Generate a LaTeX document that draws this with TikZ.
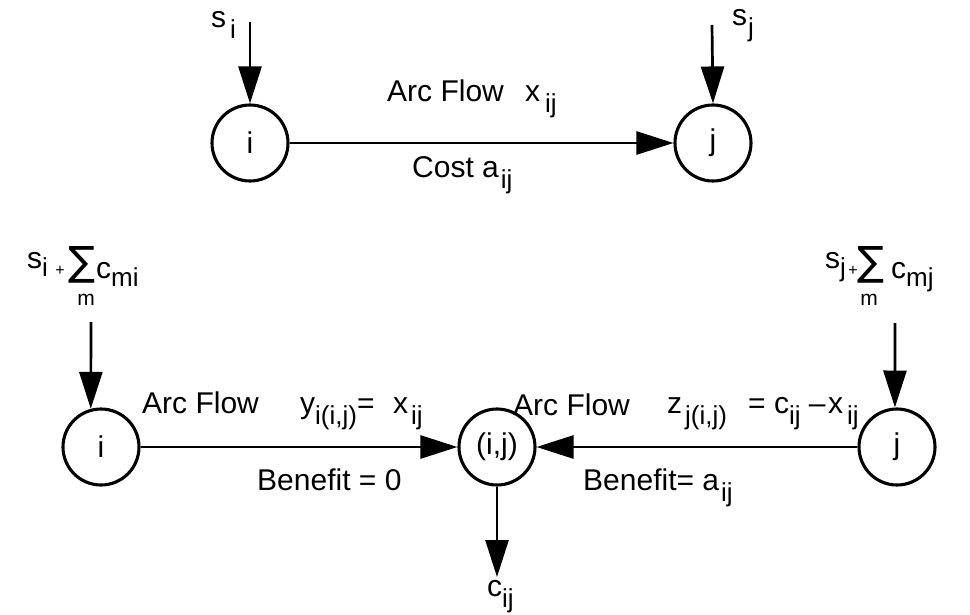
\documentclass[tikz,border=0pt]{standalone}
\usepackage{fontspec}
\setmainfont{Liberation Sans}
\newfontfamily\sigfont{DejaVu Sans}
\usetikzlibrary{arrows.meta}
\newcommand{\sbs}[1]{\raisebox{-11pt}{\fontsize{26}{30}\selectfont #1}}
\newcommand{\sbm}[1]{\raisebox{-8pt}{\fontsize{26}{30}\selectfont #1}}
\newcommand{\bigsig}{\resizebox{27pt}{29pt}{\sigfont ∑}}
\tikzset{
  nd/.style={circle,draw,line width=3.1pt,minimum size=76pt,inner sep=0pt,font=\fontsize{30}{36}\selectfont},
  arr/.style={line width=2.7pt,-{Triangle[length=37pt,width=23pt]}},
  lbl/.style={inner sep=0pt,anchor=base west,font=\fontsize{30}{36}\selectfont},
  sml/.style={inner sep=0pt,font=\fontsize{16}{18}\selectfont},
  sig/.style={inner sep=0pt,outer sep=0pt,anchor=south west,font=\fontsize{30}{36}\selectfont},
  mlb/.style={inner sep=0pt,font=\fontsize{21}{24}\selectfont}
}
\begin{document}
\begin{tikzpicture}[x=1pt,y=-1pt]
\path[use as bounding box,fill=white] (0,0) rectangle (970,615);
% top row
\node[nd] (ti) at (250,143) {i};
\node[nd] (tj) at (713,143) {j};
\node[lbl] (tsi) at (211,28) {s\hspace{4pt}\sbs{i}};
\node[lbl] (tsj) at (732,26) {s\hspace{1pt}\sbs{j}};
\coordinate (tsi0) at (250,22);
\coordinate (tsj0) at (712,25);
\draw[arr] (tsi0) -- (ti);
\draw[arr] (tsj0) -- (tj.north);
\draw[arr] (ti) -- (tj);
\node[lbl] (tflow) at (387,102) {Arc Flow};
\node[lbl] (tx) at (525,102) {x\hspace{5pt}\sbs{ij}};
\node[lbl] (tcost) at (412,178) {Cost a\hspace{2pt}\sbs{ij}};
% bottom row
\node[nd] (bi) at (101,447) {i};
\node[nd] (bij) at (497,447) {(i,j)};
\node[nd] (bj) at (897,447) {j};
% left supply
\node[lbl] (bsi) at (27,268) {s\sbm{i}};
\node[sml] (bpl) at (60,271) {+};
\node[sig] (bsig) at (68,283) {\bigsig};
\node[mlb] (bm) at (86,300) {m};
\node[lbl] (bc) at (96,278) {c\sbm{mi}};
% right supply
\node[lbl] (bsj) at (825,268) {s\sbm{j}};
\node[sml] (bpr) at (853,271) {+};
\node[sig] (bsig2) at (857,283) {\bigsig};
\node[mlb] (bm2) at (869,300) {m};
\node[lbl] (bc2) at (891,278) {c\sbm{mj}};
\coordinate (bi0) at (91,322);
\coordinate (bj0) at (895,323);
\coordinate (bc0) at (497,577);
\draw[arr] (bi0) -- (bi.105);
\draw[arr] (bj0) -- (bj.93);
\draw[arr] (bi) -- (bij);
\draw[arr] (bj) -- (bij);
\draw[arr] (bij) -- (bc0);
% labels
\node[lbl] (lflow) at (142,413) {Arc Flow};
\node[lbl] (ly) at (300,413) {y\sbs{i(i,j)}=};
\node[lbl] (lx) at (393,413) {x\hspace{3pt}\sbs{ij}};
\node[lbl] (rflow) at (513,415) {Arc Flow};
\node[lbl] (rz) at (667,413) {z\hspace{3pt}\sbs{j(i,j)}};
\node[lbl] (req) at (748,413) {= c\sbs{ij} –};
\node[lbl] (rx) at (828,413) {x\hspace{4pt}\sbs{ij}};
\node[lbl] (lben) at (257,490) {Benefit = 0};
\node[lbl] (rben) at (583,490) {Benefit= a\hspace{2pt}\sbs{ij}};
\node[lbl] (cij) at (487,596) {c\sbs{ij}};
\end{tikzpicture}
\end{document}
